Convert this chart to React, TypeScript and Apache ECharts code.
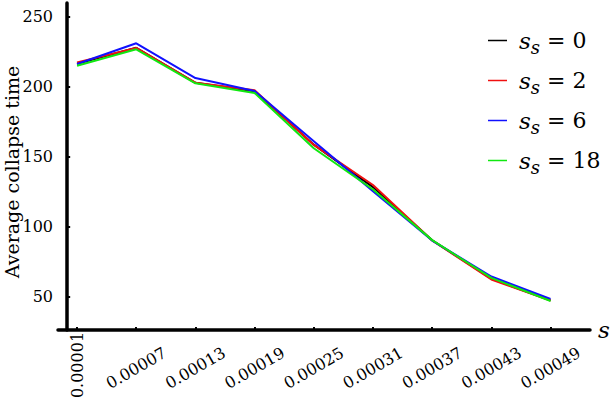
import React, { useEffect, useRef } from "react";
import * as echarts from "echarts";

const xValues = [0.00001, 0.00007, 0.00013, 0.00019, 0.00025, 0.00031, 0.00037, 0.00043, 0.00049];
const seriesNames = ["0", "2", "6", "18"];
const blackValues = [216.6, 228.0, 203.0, 197.0, 158.8, 128.5, 90.5, 63.0, 47.6];
const redValues = [217.6, 227.9, 203.1, 197.6, 158.6, 130.0, 90.4, 62.5, 47.5];
const blueValues = [216.4, 231.2, 206.4, 197.1, 161.3, 125.6, 90.3, 64.6, 48.6];
const greenValues = [215.2, 226.9, 202.6, 195.7, 156.2, 126.8, 90.6, 63.6, 47.1];
const yTicks = [50, 100, 150, 200, 250];
const xLabelTicks = [0.00007, 0.00013, 0.00019, 0.00025, 0.00031, 0.00037, 0.00043, 0.00049];
const xFirstTick = [0.00001];
const yTitle = "Average collapse time";
const colors = ["#000000", "#f01010", "#1010ff", "#10e810"];

const FONT = "DejaVu Serif";

export default function App() {
  const ref = useRef<HTMLDivElement>(null);
  useEffect(() => {
    if (!ref.current) return;
    const chart = echarts.init(ref.current, null, { renderer: "svg" });
    const allValues = [blackValues, redValues, blueValues, greenValues];
    const xMin = -0.0000093;
    const xMax = 0.00053;
    const baseX = {
      type: "value",
      min: xMin,
      max: xMax,
      position: "bottom",
      splitLine: { show: false },
    };
    chart.setOption({
      animation: false,
      textStyle: { fontFamily: FONT },
      grid: { left: 58, right: 24, top: 3, bottom: 73, containLabel: false, outerBoundsMode: "none" },
      graphic: [
        {
          type: "text",
          x: 12,
          y: 172,
          rotation: Math.PI / 2,
          style: {
            text: yTitle,
            font: "19px DejaVu Serif",
            fill: "#000",
            align: "center",
            verticalAlign: "middle",
          },
        },
      ],
      legend: {
        orient: "vertical",
        left: 483,
        top: 24,
        itemGap: 13,
        icon: "rect",
        itemWidth: 19,
        itemHeight: 1.5,
        data: seriesNames.map((n) => "s_s = " + n),
        formatter: (name: string) => {
          const v = name.split("= ")[1];
          return "{i|s}{sub|s}{t| = " + v + "}";
        },
        textStyle: {
          fontFamily: FONT,
          color: "#000",
          rich: {
            i: { fontFamily: FONT, fontStyle: "italic", fontSize: 23, color: "#000", padding: [0, 0, 0, 7], lineHeight: 26, verticalAlign: "middle" },
            sub: { fontFamily: FONT, fontStyle: "italic", fontSize: 18, color: "#000", lineHeight: 31, verticalAlign: "bottom" },
            t: { fontFamily: FONT, fontSize: 22, color: "#000", lineHeight: 26, verticalAlign: "middle" },
          },
        },
      },
      xAxis: [
        {
          ...baseX,
          name: "s",
          nameLocation: "end",
          nameGap: 8,
          nameTextStyle: { fontFamily: FONT, fontStyle: "italic", fontSize: 23, color: "#000", verticalAlign: "middle" },
          axisLine: { show: true, onZero: false, lineStyle: { color: "#000", width: 3.5 } },
          axisTick: {
            show: true,
            inside: true,
            length: 3,
            customValues: xValues,
            lineStyle: { color: "#000", width: 2 },
          },
          axisLabel: {
            customValues: xLabelTicks,
            rotate: 30,
            align: "center",
            verticalAlign: "middle",
            margin: 38,
            fontFamily: FONT,
            fontSize: 16,
            color: "#000",
            formatter: (v: number) => v.toFixed(5),
          },
        },
        {
          ...baseX,
          axisLine: { show: false, onZero: false },
          axisTick: { show: false },
          axisLabel: {
            customValues: xFirstTick,
            rotate: 90,
            align: "center",
            verticalAlign: "middle",
            margin: 35,
            fontFamily: FONT,
            fontSize: 16,
            color: "#000",
            formatter: (v: number) => v.toFixed(5),
          },
        },
      ],
      yAxis: {
        type: "value",
        min: 26.4,
        max: 260,
        splitLine: { show: false },
        axisLine: { show: true, onZero: true, lineStyle: { color: "#000", width: 3.5 } },
        axisTick: {
          show: true,
          inside: true,
          length: 3,
          customValues: yTicks,
          lineStyle: { color: "#000", width: 2 },
        },
        axisLabel: {
          customValues: yTicks,
          margin: 5,
          fontFamily: FONT,
          fontSize: 16,
          color: "#000",
        },
      },
      series: seriesNames.map((n, i) => ({
        name: "s_s = " + n,
        type: "line",
        xAxisIndex: 0,
        symbol: "none",
        color: colors[i],
        lineStyle: { width: 2, color: colors[i] },
        data: xValues.map((x, j) => [x, allValues[i][j]]),
      })),
    });
    return () => chart.dispose();
  }, []);
  return (
    <div
      ref={ref}
      style={{ position: "fixed", left: 0, top: 0, width: 614, height: 403, background: "#fff" }}
    />
  );
}
